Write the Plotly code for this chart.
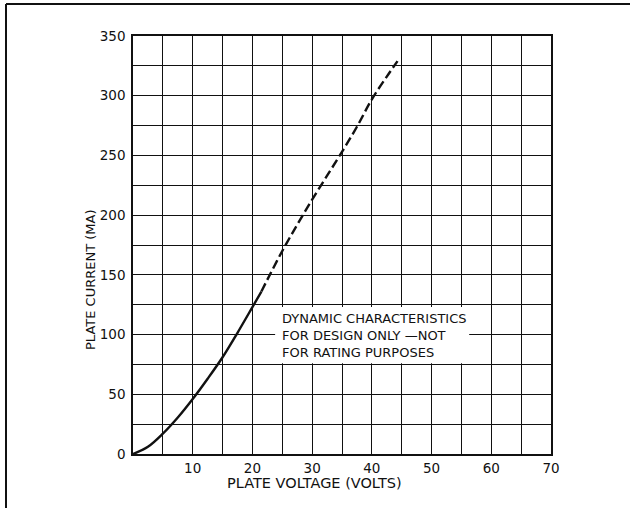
import plotly.graph_objects as go

# Data
voltage_solid = [0, 2.5, 5, 7.5, 10, 12.5, 15, 17.5, 20, 21.5]
current_solid = [0, 6, 17, 30.5, 46, 63, 81, 101.5, 123, 136]
voltage_dashed = [21.5, 22.5, 25, 27.5, 30, 32.5, 35, 37.5, 40, 42.5, 44.3]
current_dashed = [136, 146, 170, 192, 213, 233, 253, 274, 297, 316, 329]

x_ticks = [10, 20, 30, 40, 50, 60, 70]
y_ticks = [0, 50, 100, 150, 200, 250, 300, 350]

note_lines = ["DYNAMIC CHARACTERISTICS", "FOR DESIGN ONLY \u2014NOT", "FOR RATING PURPOSES"]

FONT = "DejaVu Sans"
INK = "#111111"

# pixel geometry of the plot area
L, R, T, B = 133, 551, 36, 454
W = R - L
H = B - T


def px(xp):
    return (xp - L) / W


def py(yp):
    return (B - yp) / H


fig = go.Figure()
fig.add_trace(go.Scatter(x=voltage_solid, y=current_solid, mode="lines",
                         line=dict(color=INK, width=2.4, shape="spline"),
                         showlegend=False, hoverinfo="skip"))
fig.add_trace(go.Scatter(x=voltage_dashed, y=current_dashed, mode="lines",
                         line=dict(color=INK, width=2.4, dash="9px,4px", shape="spline"),
                         showlegend=False, hoverinfo="skip"))

axis_common = dict(showline=True, linecolor=INK, linewidth=1.6, mirror=True,
                   showgrid=True, gridcolor=INK, gridwidth=1.2, zeroline=False,
                   ticks="", tickfont=dict(family=FONT, size=13.5, color=INK))

fig.update_xaxes(range=[0, 70], tickvals=x_ticks, ticktext=[str(v) for v in x_ticks],
                 minor=dict(dtick=5, tick0=0, showgrid=True, gridcolor=INK, gridwidth=1.2),
                 ticklabelstandoff=1, **axis_common)
fig.update_yaxes(range=[0, 350], tickvals=y_ticks, ticktext=[str(v) for v in y_ticks],
                 minor=dict(dtick=25, tick0=0, showgrid=True, gridcolor=INK, gridwidth=1.2),
                 ticklabelstandoff=3, **axis_common)

# white label box covering the grid
fig.add_shape(type="rect", xref="x", yref="y", x0=23.8, x1=56.3, y0=76, y1=123,
              fillcolor="white", line=dict(width=0), layer="between")
fig.add_annotation(x=px(280), y=py(335), xref="paper", yref="paper",
                   xanchor="left", yanchor="middle", align="left",
                   text="<br>".join(note_lines), showarrow=False,
                   font=dict(family=FONT, size=13, color=INK))

# axis titles
fig.add_annotation(x=px(314), y=py(483), xref="paper", yref="paper",
                   text="PLATE VOLTAGE (VOLTS)", showarrow=False,
                   xanchor="center", yanchor="middle",
                   font=dict(family=FONT, size=14.5, color=INK))
fig.add_annotation(x=px(90), y=py(280), xref="paper", yref="paper",
                   text="PLATE CURRENT (MA)", showarrow=False, textangle=-90,
                   xanchor="center", yanchor="middle",
                   font=dict(family=FONT, size=13, color=INK))

# page border lines (top and left)
fig.add_shape(type="line", xref="paper", yref="paper",
              x0=px(6), x1=px(632), y0=py(4), y1=py(4),
              line=dict(color=INK, width=2))
fig.add_shape(type="line", xref="paper", yref="paper",
              x0=px(6), x1=px(6), y0=py(4), y1=py(512),
              line=dict(color=INK, width=2))

fig.update_layout(width=630, height=508, margin=dict(l=L, r=630 - R, t=T, b=508 - B),
                  paper_bgcolor="white", plot_bgcolor="white",
                  font=dict(family=FONT, color=INK))

fig.write_html("out.html", config={"displayModeBar": False},
               post_script="document.body.style.margin='0';document.body.style.overflow='hidden';")
